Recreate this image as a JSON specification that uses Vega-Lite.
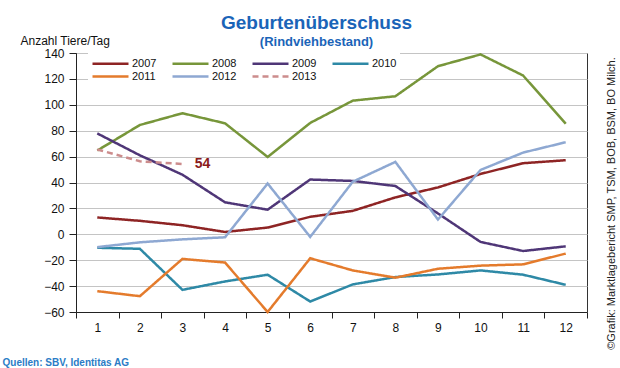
{
  "$schema": "https://vega.github.io/schema/vega-lite/v6.json",
  "width": 511,
  "height": 259,
  "autosize": {"type": "none"},
  "padding": {"left": 76, "top": 53, "right": 33, "bottom": 56},
  "background": "white",
  "title": {
    "text": "Geburtenüberschuss",
    "subtitle": "(Rindviehbestand)",
    "font": "Liberation Sans",
    "subtitleFont": "Liberation Sans",
    "fontSize": 19,
    "subtitleFontSize": 13,
    "fontWeight": "bold",
    "subtitleFontWeight": "bold",
    "color": "#1A64B8",
    "subtitleColor": "#1A64B8",
    "anchor": "middle",
    "dx": -15,
    "dy": 18,
    "offset": 3,
    "subtitlePadding": 3
  },
  "data": {
    "values": [
      {"year": "2007", "month": 1, "value": 13}, {"year": "2007", "month": 2, "value": 10.4}, {"year": "2007", "month": 3, "value": 7}, {"year": "2007", "month": 4, "value": 1.8}, {"year": "2007", "month": 5, "value": 5.2}, {"year": "2007", "month": 6, "value": 13.5}, {"year": "2007", "month": 7, "value": 18.1}, {"year": "2007", "month": 8, "value": 28.5}, {"year": "2007", "month": 9, "value": 36.2}, {"year": "2007", "month": 10, "value": 46.6}, {"year": "2007", "month": 11, "value": 54.9}, {"year": "2007", "month": 12, "value": 57.2},
      {"year": "2008", "month": 1, "value": 64.7}, {"year": "2008", "month": 2, "value": 84.4}, {"year": "2008", "month": 3, "value": 93.5}, {"year": "2008", "month": 4, "value": 85.7}, {"year": "2008", "month": 5, "value": 59.7}, {"year": "2008", "month": 6, "value": 86}, {"year": "2008", "month": 7, "value": 103.2}, {"year": "2008", "month": 8, "value": 106.6}, {"year": "2008", "month": 9, "value": 129.8}, {"year": "2008", "month": 10, "value": 138.9}, {"year": "2008", "month": 11, "value": 122.6}, {"year": "2008", "month": 12, "value": 85.4},
      {"year": "2009", "month": 1, "value": 77.9}, {"year": "2009", "month": 2, "value": 61}, {"year": "2009", "month": 3, "value": 46}, {"year": "2009", "month": 4, "value": 24.7}, {"year": "2009", "month": 5, "value": 19}, {"year": "2009", "month": 6, "value": 42.3}, {"year": "2009", "month": 7, "value": 41.2}, {"year": "2009", "month": 8, "value": 37.3}, {"year": "2009", "month": 9, "value": 16.1}, {"year": "2009", "month": 10, "value": -5.9}, {"year": "2009", "month": 11, "value": -12.9}, {"year": "2009", "month": 12, "value": -9.3},
      {"year": "2010", "month": 1, "value": -10.4}, {"year": "2010", "month": 2, "value": -11.2}, {"year": "2010", "month": 3, "value": -42.9}, {"year": "2010", "month": 4, "value": -36.4}, {"year": "2010", "month": 5, "value": -31.2}, {"year": "2010", "month": 6, "value": -51.9}, {"year": "2010", "month": 7, "value": -38.7}, {"year": "2010", "month": 8, "value": -33}, {"year": "2010", "month": 9, "value": -31}, {"year": "2010", "month": 10, "value": -27.9}, {"year": "2010", "month": 11, "value": -31.2}, {"year": "2010", "month": 12, "value": -39},
      {"year": "2011", "month": 1, "value": -43.9}, {"year": "2011", "month": 2, "value": -47.8}, {"year": "2011", "month": 3, "value": -19}, {"year": "2011", "month": 4, "value": -21.8}, {"year": "2011", "month": 5, "value": -60}, {"year": "2011", "month": 6, "value": -18.5}, {"year": "2011", "month": 7, "value": -27.9}, {"year": "2011", "month": 8, "value": -33.5}, {"year": "2011", "month": 9, "value": -26.6}, {"year": "2011", "month": 10, "value": -24.2}, {"year": "2011", "month": 11, "value": -23.2}, {"year": "2011", "month": 12, "value": -14.9},
      {"year": "2012", "month": 1, "value": -9.9}, {"year": "2012", "month": 2, "value": -6.2}, {"year": "2012", "month": 3, "value": -3.9}, {"year": "2012", "month": 4, "value": -2.3}, {"year": "2012", "month": 5, "value": 39.2}, {"year": "2012", "month": 6, "value": -2}, {"year": "2012", "month": 7, "value": 40.6}, {"year": "2012", "month": 8, "value": 55.9}, {"year": "2012", "month": 9, "value": 11.4}, {"year": "2012", "month": 10, "value": 49.7}, {"year": "2012", "month": 11, "value": 63.1}, {"year": "2012", "month": 12, "value": 71.1},
      {"year": "2013", "month": 1, "value": 65.5}, {"year": "2013", "month": 2, "value": 56.4}, {"year": "2013", "month": 3, "value": 54.3}
    ]
  },
  "encoding": {
    "x": {
      "field": "month",
      "type": "ordinal",
      "scale": {"type": "band", "paddingInner": 0, "paddingOuter": 0},
      "axis": {
        "title": "Quellen: SBV, Identitas AG",
        "titleX": -74,
        "titleY": 53,
        "titleAlign": "left",
        "titleBaseline": "alphabetic",
        "titleFont": "Liberation Sans",
        "titleFontSize": 10,
        "titleFontWeight": "bold",
        "titleColor": "#2A7CC6",
        "tickBand": "extent",
        "labelAngle": 0,
        "labelFont": "Liberation Sans",
        "labelFontSize": 12,
        "labelColor": "#111",
        "labelPadding": 4,
        "tickSize": 6,
        "tickColor": "#222",
        "domainColor": "#222",
        "grid": false
      }
    }
  },
  "layer": [
    {
      "mark": {"type": "line", "strokeWidth": 2.5},
      "encoding": {
        "y": {
          "field": "value",
          "type": "quantitative",
          "scale": {"domain": [-60, 140], "nice": false, "zero": false},
          "axis": {
            "values": [-60, -40, -20, 0, 20, 40, 60, 80, 100, 120, 140],
            "title": "Anzahl Tiere/Tag",
            "titleAngle": 0,
            "titleX": -56,
            "titleY": -9,
            "titleAlign": "left",
            "titleBaseline": "alphabetic",
            "titleFont": "Liberation Sans",
            "titleFontSize": 12,
            "titleFontWeight": "normal",
            "titleColor": "#111",
            "labelFont": "Liberation Sans",
            "labelFontSize": 12,
            "labelColor": "#111",
            "labelPadding": 5,
            "tickSize": 7,
            "tickColor": "#222",
            "domainColor": "#222",
            "gridColor": "#C4C4C4",
            "gridWidth": 1
          }
        },
        "color": {
          "field": "year",
          "type": "nominal",
          "scale": {
            "domain": ["2007", "2008", "2009", "2010", "2011", "2012", "2013"],
            "range": ["#8E2424", "#77963A", "#4F3677", "#2E89A6", "#E47B2C", "#8EA8D2", "#CC8C8C"]
          },
          "legend": {
            "title": null,
            "orient": "none",
            "legendX": 12,
            "legendY": 0,
            "direction": "horizontal",
            "columns": 4,
            "fillColor": "white",
            "padding": 3,
            "symbolType": "M-1,0H5",
            "symbolSize": 144,
            "symbolStrokeWidth": 2.5,
            "labelFont": "Liberation Sans",
            "labelFontSize": 11,
            "labelColor": "#111",
            "labelOffset": 26,
            "columnPadding": 10,
            "rowPadding": 0
          }
        },
        "strokeDash": {
          "field": "year",
          "type": "nominal",
          "scale": {
            "domain": ["2007", "2008", "2009", "2010", "2011", "2012", "2013"],
            "range": [[1, 0], [1, 0], [1, 0], [1, 0], [1, 0], [1, 0], [6, 4]]
          },
          "legend": null
        }
      }
    },
    {
      "transform": [{"filter": "datum.year == '2013' && datum.month == 3"}],
      "mark": {"type": "text", "dx": 20, "fontSize": 14, "fontWeight": "bold", "font": "Liberation Sans", "color": "#8B1A1A", "align": "center", "baseline": "middle"},
      "encoding": {
        "y": {
          "field": "value",
          "type": "quantitative",
          "scale": {"domain": [-60, 140], "nice": false, "zero": false},
          "axis": {
            "orient": "right",
            "title": "©Grafik: Marktlagebericht SMP, TSM, BOB, BSM, BO Milch.",
            "labels": false,
            "ticks": false,
            "domain": false,
            "grid": false,
            "titleAngle": 270,
            "titleX": 24,
            "titleY": 150,
            "titleAlign": "center",
            "titleBaseline": "middle",
            "titleFont": "Liberation Sans",
            "titleFontSize": 11,
            "titleFontWeight": "normal",
            "titleColor": "#222"
          }
        },
        "text": {"value": "54"}
      }
    }
  ],
  "resolve": {"scale": {"y": "independent"}, "axis": {"y": "independent"}},
  "config": {
    "view": {"stroke": "#333", "strokeWidth": 1}
  }
}
